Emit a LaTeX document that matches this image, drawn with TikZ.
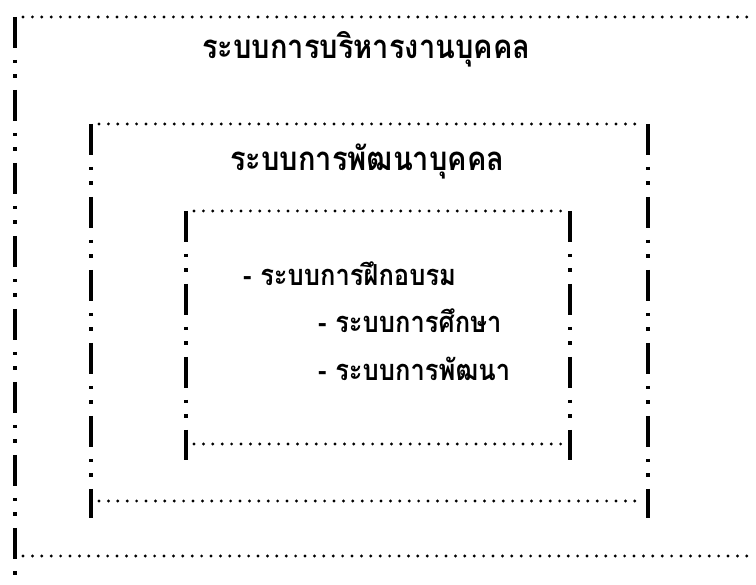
\documentclass[tikz,border=0pt]{standalone}
\usepackage{fontspec}
\newfontfamily\thaifont[Script=Thai, FakeStretch=0.88]{Loma}
\tikzset{
  hdots/.style={line width=3.2pt, line cap=round, dash pattern=on 0pt off 9.4pt},
  vdashdot/.style={line width=3.8pt, line cap=butt,
    dash pattern=on 31pt off 12pt on 3.5pt off 11pt on 3.5pt off 12pt},
  thailabel/.style={font=\thaifont\bfseries\fontsize{33}{38}\selectfont, inner sep=0pt, anchor=base west},
  itemlabel/.style={thailabel, font=\thaifont\bfseries\fontsize{29}{34}\selectfont}
}
\begin{document}
\begin{tikzpicture}[x=1pt,y=-1pt]
\useasboundingbox (0,0) rectangle (756,585);
\coordinate (outer-nw) at (15,17);
\coordinate (outer-ne) at (756,17);
\coordinate (outer-sw) at (15,556);
\coordinate (outer-se) at (756,556);
\coordinate (outer-end) at (15,578);
\coordinate (mid-nw) at (91,124);
\coordinate (mid-ne) at (648,124);
\coordinate (mid-sw) at (91,501);
\coordinate (mid-se) at (648,501);
\coordinate (mid-wend) at (91,518);
\coordinate (mid-eend) at (648,518);
\coordinate (in-nw) at (186,211);
\coordinate (in-ne) at (570,211);
\coordinate (in-sw) at (186,444);
\coordinate (in-se) at (570,444);
\coordinate (in-wend) at (186,460);
\coordinate (in-eend) at (570,460);
\node[thailabel] (hrm) at (202,59) {ระบบการบริหารงานบุคคล};
\node[thailabel] (hrd) at (230,171) {ระบบการพัฒนาบุคคล};
\node[itemlabel] (train) at (243,286) {- ระบบการฝึกอบรม};
\node[itemlabel] (edu) at (318,333) {- ระบบการศึกษา};
\node[itemlabel] (dev) at (318,381) {- ระบบการพัฒนา};
\draw[vdashdot] (outer-nw) -- (outer-end);
\draw[vdashdot] (mid-nw) -- (mid-wend);
\draw[vdashdot] (mid-ne) -- (mid-eend);
\draw[vdashdot] (in-nw) -- (in-wend);
\draw[vdashdot] (in-ne) -- (in-eend);
\draw[hdots] ([xshift=8pt]outer-nw) -- (outer-ne);
\draw[hdots] ([xshift=8pt]outer-sw) -- (outer-se);
\draw[hdots] ([xshift=8pt]mid-nw) -- ([xshift=-5pt]mid-ne);
\draw[hdots] ([xshift=8pt]mid-sw) -- ([xshift=-5pt]mid-se);
\draw[hdots] ([xshift=8pt]in-nw) -- ([xshift=-5pt]in-ne);
\draw[hdots] ([xshift=8pt]in-sw) -- ([xshift=-5pt]in-se);
\end{tikzpicture}
\end{document}
